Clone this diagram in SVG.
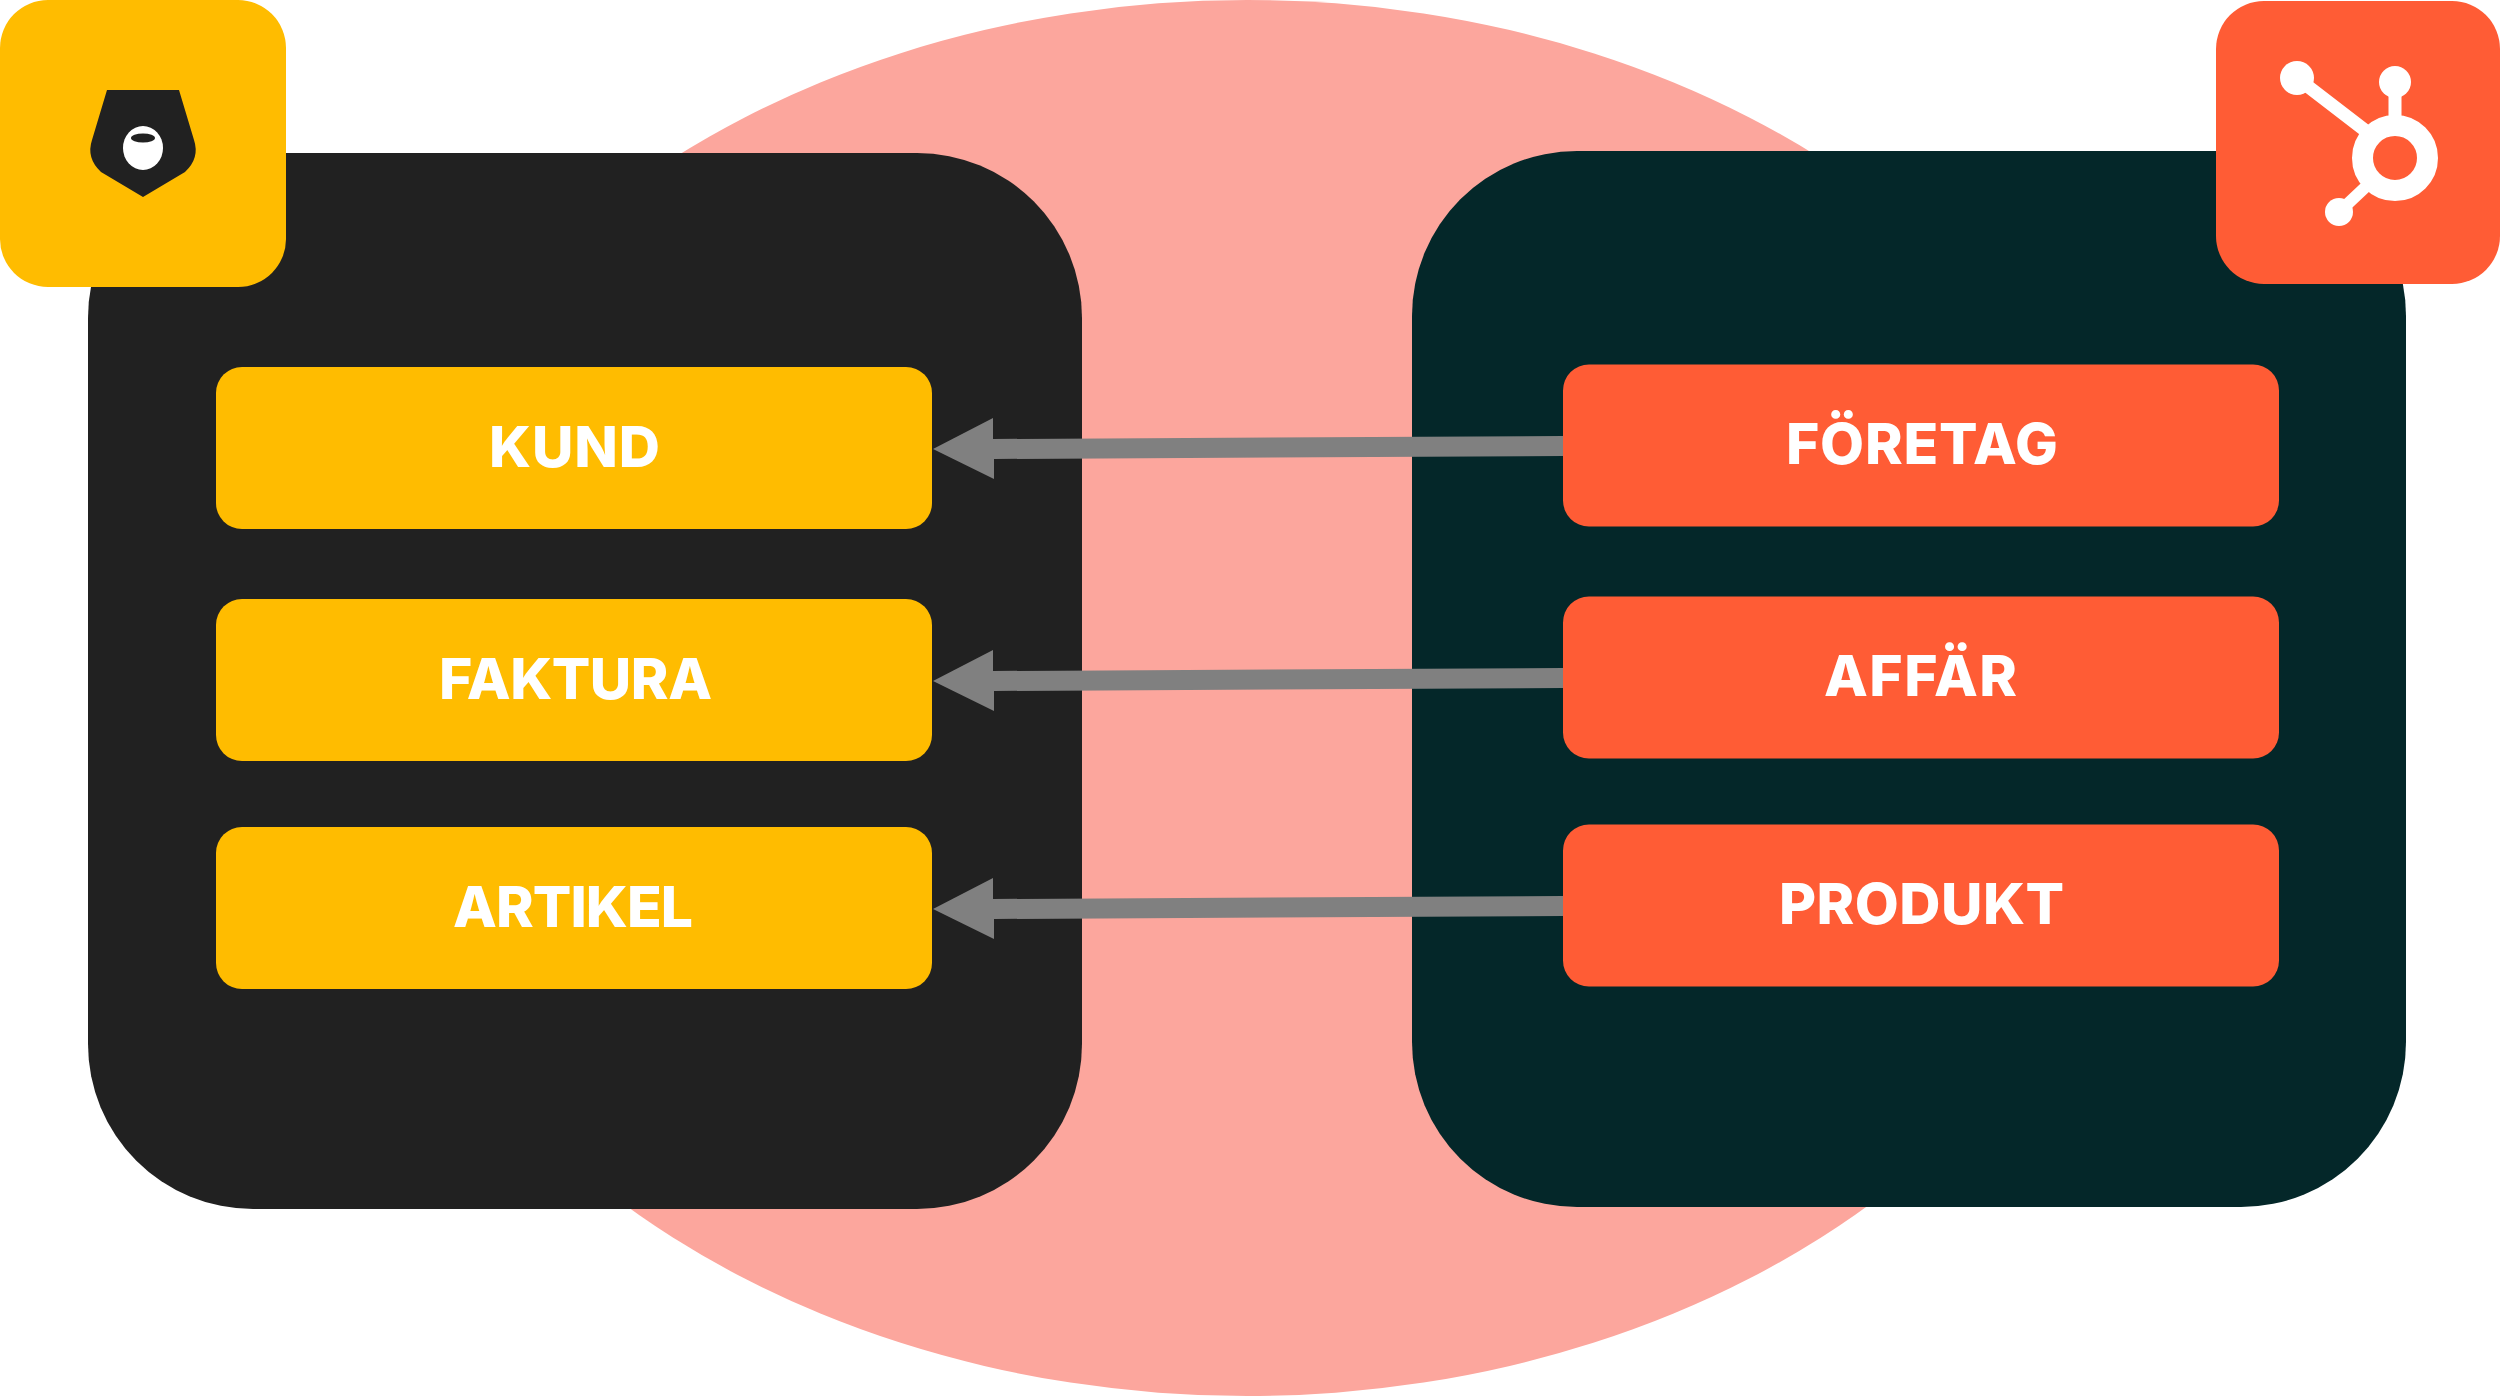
<svg xmlns="http://www.w3.org/2000/svg" width="2500" height="1396" viewBox="0 0 2500 1396">
<style>
.y{fill:#FFBC00}.o{fill:#FF5C35}
.t{font-family:"Inter","Liberation Sans",sans-serif;font-weight:800;font-size:57px;fill:#fff;text-anchor:middle}
.a{fill:#808080}
.w{stroke:#fff;fill:none}
</style>
<rect width="2500" height="1396" fill="#fff"/>
<ellipse id="overlap" cx="1247" cy="698" rx="905" ry="698" fill="#FCA69D"/>
<rect id="panel-left" x="88" y="153" width="994" height="1056" rx="165" fill="#212121"/>
<rect id="panel-right" x="1412" y="151" width="994" height="1056" rx="165" fill="#042729"/>
<g id="logo-left">
<rect class="y" x="0" y="0" width="286" height="287" rx="48"/>
<path d="M107 90H179L194 140Q200 158 185 172L143 197L101 172Q86 158 92 140Z" fill="#212121"/>
<ellipse cx="143" cy="148" rx="20" ry="22" fill="#fff"/>
<ellipse cx="143" cy="138" rx="12" ry="4.500" fill="#212121"/>
</g>
<g id="logo-right">
<rect class="o" x="2216" y="1" width="284" height="283" rx="48"/>
<circle class="w" cx="2395" cy="158" r="32.500" stroke-width="21"/>
<circle cx="2297" cy="78" r="17" fill="#fff"/>
<circle cx="2395" cy="82" r="16" fill="#fff"/>
<circle cx="2339" cy="212" r="14" fill="#fff"/>
<path class="w" d="M2297 78L2375 138M2395 82V125" stroke-width="13"/>
<path class="w" d="M2339 212L2373 180" stroke-width="12"/>
</g>
<g id="node-kund"><rect class="y" x="216" y="367" width="716" height="162" rx="26"/><text class="t" x="574.500" y="466.500" textLength="171">KUND</text></g>
<g id="node-faktura"><rect class="y" x="216" y="599" width="716" height="162" rx="26"/><text class="t" x="575.500" y="699" textLength="273">FAKTURA</text></g>
<g id="node-artikel"><rect class="y" x="216" y="827" width="716" height="162" rx="26"/><text class="t" x="573" y="927" textLength="240">ARTIKEL</text></g>
<g id="node-foretag"><rect class="o" x="1563" y="364.500" width="716" height="162" rx="26"/><text class="t" x="1922" y="464" textLength="272">FÖRETAG</text></g>
<g id="node-affar"><rect class="o" x="1563" y="596.500" width="716" height="162" rx="26"/><text class="t" x="1920.500" y="696" textLength="193">AFFÄR</text></g>
<g id="node-produkt"><rect class="o" x="1563" y="824.500" width="716" height="162" rx="26"/><text class="t" x="1921.500" y="924" textLength="285">PRODUKT</text></g>
<g id="connectors">
<path class="a" d="M1563 436L993 439V418L933 449L994 479V459L1563 456Z"/>
<path class="a" d="M1563 668L993 671V650L933 681L994 711V691L1563 688Z"/>
<path class="a" d="M1563 896L993 899V878L933 909L994 939V919L1563 916Z"/>
</g>
</svg>
